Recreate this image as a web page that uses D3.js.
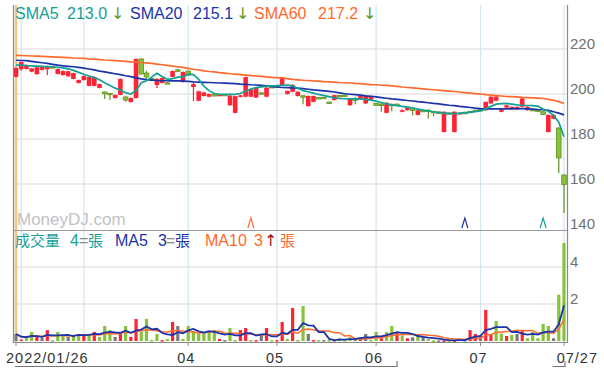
<!DOCTYPE html>
<html><head><meta charset="utf-8">
<script src="https://cdn.jsdelivr.net/npm/d3@7"></script>
<style>body{margin:0;background:#fff;}svg{display:block;font-family:"Liberation Sans","Noto Sans CJK TC",sans-serif;}</style>
</head><body><svg id="c" width="604" height="369"></svg>
<script>
// ---------- DATA ----------
const tickIdx    = [0, 33, 50, 69, 89, 105];
const tickLabels = ["2022/01/26", "04", "05", "06", "07", "07/27"];
const monthGridIdx = [1, 13, 33, 50, 69, 89, 105];
const priceTicks = [140, 160, 180, 200, 220];
const volTicks   = [2, 4];

const open  = [207.6,211.0,211.1,209.9,208.8,210.7,211.0,212.1,208.9,208.4,207.9,206.7,204.9,206.2,203.6,203.6,202.7,200.9,200.3,198.2,
               199.6,198.7,196.4,198.2,215.6,209.3,206.9,204.0,204.9,205.0,207.6,210.7,205.3,210.2,203.1,197.0,199.1,198.8,199.9,199.3,
               199.8,195.0,191.6,198.7,198.8,198.8,198.4,200.5,198.8,203.3,203.6,203.9,200.0,201.0,199.1,199.2,194.6,196.5,198.4,198.5,
               196.4,197.3,199.3,199.5,195.0,197.8,197.6,195.8,197.3,195.8,195.5,191.6,195.4,195.5,192.1,192.8,193.3,190.7,192.7,192.8,
               192.3,192.0,183.1,191.6,183.1,191.0,191.8,192.3,192.8,193.1,192.8,195.8,197.0,192.1,194.0,193.1,193.1,194.3,192.8,193.1,
               192.9,192.1,183.1,189.0,184.9,164.0];
const high  = [211.8,214.4,213.1,211.5,212.0,212.3,212.6,212.3,211.3,210.4,210.3,209.5,206.4,208.2,207.8,207.8,204.6,201.0,200.4,199.8,
               206.9,198.9,198.4,215.8,215.8,210.3,207.1,207.0,207.3,205.2,210.5,211.2,210.0,210.5,205.0,201.4,200.9,200.2,200.1,199.8,
               200.0,199.5,199.2,199.6,207.7,202.3,202.9,200.7,203.0,203.5,203.8,207.6,201.5,204.5,201.2,199.4,199.3,199.3,198.6,198.7,
               196.6,199.7,199.5,199.7,198.2,198.8,199.3,199.3,199.3,196.0,196.5,196.3,195.8,195.7,193.2,194.2,193.5,193.0,192.9,193.1,
               192.5,192.2,192.3,191.8,192.3,191.7,192.1,192.5,193.0,193.3,196.7,199.0,199.5,193.3,195.2,194.5,194.5,198.2,194.5,193.3,
               193.1,192.3,190.9,190.9,185.1,164.2];
const low   = [207.4,210.3,210.9,209.7,208.6,210.5,208.3,211.6,208.7,208.2,207.7,206.5,204.7,206.0,203.4,203.4,202.5,197.8,197.3,198.0,
               199.4,196.6,196.2,198.0,208.7,206.2,206.4,202.7,204.7,204.7,207.4,209.9,205.1,208.2,196.9,196.8,198.9,198.6,199.0,199.1,
               199.5,194.8,191.4,198.5,198.6,198.6,198.2,200.3,198.6,203.0,203.3,203.7,199.8,200.8,198.9,195.5,194.4,196.3,198.0,198.3,
               196.0,197.1,199.0,199.2,194.8,195.5,197.4,195.6,197.1,194.7,192.1,191.4,192.3,195.2,191.9,192.6,190.5,190.5,192.3,189.1,
               190.1,191.7,182.9,191.3,182.9,190.8,191.6,191.9,192.1,192.6,192.6,195.6,196.8,191.9,193.8,192.9,192.9,194.1,192.6,192.7,
               192.3,190.7,182.9,188.8,164.9,147.1];
const close = [211.6,214.2,212.9,211.4,211.9,212.1,212.4,211.8,211.1,210.2,210.1,209.3,206.2,208.0,207.6,207.6,204.4,200.1,199.7,199.6,
               206.7,197.3,198.2,215.6,208.9,207.6,206.6,206.7,207.1,204.9,210.2,210.2,209.8,208.4,204.4,201.2,200.7,200.0,199.1,199.6,
               199.7,199.3,199.0,199.4,207.5,202.1,202.7,200.5,202.8,203.1,203.4,207.4,201.4,204.0,201.0,198.9,199.1,199.1,198.2,198.5,
               196.2,199.5,199.1,199.3,198.0,197.5,199.1,199.1,199.1,194.9,195.2,196.1,195.1,195.4,192.8,194.0,193.0,192.8,192.5,192.5,
               192.0,191.9,192.1,191.5,192.1,191.5,191.8,192.0,192.3,192.8,196.5,198.8,198.8,193.1,195.0,194.3,194.3,198.0,194.3,192.9,
               192.5,190.9,190.7,190.7,171.6,159.8];

const sma5  = [212.9,212.8,212.6,212.5,212.4,212.3,212.2,212.1,211.9,211.6,211.2,210.5,209.6,208.8,208.0,207.3,206.3,205.0,203.8,202.6,
               201.8,200.6,200.0,201.5,205.0,205.9,207.5,209.2,207.8,206.5,206.8,207.5,207.6,208.8,208.6,206.5,203.5,201.5,200.2,199.9,
               199.8,199.8,199.8,200.2,201.3,202.2,202.8,203.2,203.4,203.6,203.7,203.9,204.0,203.6,202.6,201.5,201.0,200.4,199.8,199.3,
               198.8,198.3,198.0,197.9,197.8,197.8,197.8,197.6,197.3,196.8,196.2,195.6,195.2,194.8,194.5,194.2,193.8,193.3,192.9,192.5,
               192.0,191.8,191.5,191.3,191.3,191.5,191.7,191.8,192.2,192.5,193.4,194.5,195.5,195.7,195.8,195.5,195.2,195.0,194.9,194.8,
               194.6,193.3,192.3,190.5,187.5,181.0];
const sma20 = [215.0,214.9,214.8,214.5,214.2,213.9,213.6,213.2,212.8,212.5,212.3,212.1,211.8,211.5,211.1,210.7,210.2,209.8,209.4,209.0,
               208.6,208.1,207.7,207.2,206.7,206.4,206.2,206.0,205.9,205.9,205.8,205.8,205.7,205.6,205.4,205.3,205.2,205.1,205.0,204.9,
               204.8,204.7,204.6,204.4,204.3,204.1,204.0,203.8,203.6,203.3,203.1,202.9,202.8,202.7,202.6,202.4,202.1,201.8,201.6,201.4,
               201.2,200.9,200.5,200.1,199.9,199.7,199.5,199.2,199.0,198.7,198.4,198.1,197.8,197.6,197.4,197.1,196.9,196.6,196.4,196.1,
               195.8,195.6,195.3,195.0,194.8,194.5,194.3,194.0,193.7,193.5,193.4,193.4,193.4,193.4,193.4,193.5,193.5,193.5,193.4,193.3,
               193.1,193.0,192.7,192.1,191.5,190.7];
const sma60 = [217.2,217.1,217.0,216.9,216.8,216.7,216.6,216.5,216.4,216.3,216.2,216.0,215.9,215.8,215.6,215.5,215.3,215.1,215.0,214.8,
               214.7,214.5,214.3,214.2,214.0,213.8,213.6,213.3,213.0,212.7,212.4,212.1,211.8,211.4,211.0,210.7,210.3,210.0,209.8,209.5,
               209.3,209.0,208.8,208.6,208.4,208.2,208.0,207.8,207.6,207.4,207.3,207.1,206.8,206.5,206.3,206.1,206.0,205.8,205.7,205.5,
               205.4,205.3,205.1,205.0,204.9,204.7,204.6,204.4,204.2,204.1,203.9,203.8,203.6,203.4,203.1,202.9,202.7,202.5,202.3,202.1,
               201.9,201.7,201.5,201.3,201.1,200.9,200.6,200.4,200.2,200.0,199.7,199.5,199.3,199.1,198.9,198.8,198.7,198.5,198.4,198.3,
               198.2,198.0,197.6,197.2,196.6,195.8];

const volume = [0.38,0.08,0.15,0.49,0.22,0.18,0.59,0.05,0.49,0.29,0.22,0.29,0.38,0.38,0.38,0.49,0.22,0.81,0.59,0.22,
                0.38,0.81,0.22,1.19,0.49,1.19,0.05,0.38,0.05,0.11,1.03,0.81,0.11,0.81,0.49,0.38,0.49,0.49,0.59,0.11,
                0.05,0.70,0.05,0.59,0.70,0.05,0.05,0.38,0.70,0.05,0.05,1.03,0.11,1.78,0.05,1.89,0.38,0.05,0.05,0.05,
                0.05,0.05,0.15,0.05,0.20,0.15,0.20,0.38,0.05,0.49,0.15,0.49,0.81,0.43,0.30,0.15,0.20,0.27,0.20,0.10,
                0.03,0.03,0.03,0.03,0.03,0.10,0.05,0.59,0.38,0.27,1.68,0.33,1.08,0.40,0.27,0.33,0.38,0.59,0.15,0.49,
                0.15,0.92,0.81,0.15,2.50,5.30];
// sign of the day's price change, as shown by the volume bar colours (u = up, d = down, f = flat)
const volDir = ["f","u","d","d","u","f","u","d","d","d","f","d","d","u","d","u","d","d","d","f",
                "u","d","u","u","d","d","d","d","u","d","u","f","d","d","d","d","d","d","d","u",
                "f","d","d","u","u","d","u","f","u","d","u","u","d","u","d","d","f","u","d","f",
                "d","u","d","d","d","f","u","f","d","d","u","d","d","u","d","u","f","d","f","d",
                "d","f","u","d","u","f","f","u","u","f","u","u","d","d","u","d","f","u","d","d",
                "d","d","d","f","d","d"];

const signalIdx    = [45, 86, 101];
const signalSeries = ["SMA60", "SMA20", "SMA5"];

const legendTop = [
  {name:"SMA5",  value:"213.0", arrow:"↓"},
  {name:"SMA20", value:"215.1", arrow:"↓"},
  {name:"SMA60", value:"217.2", arrow:"↓"}
];

// ---------- DRAWING ----------
const N = close.length;
const svg = d3.select("#c");
const L = 13, R = 567, TOP = 5, MAINB = 230, VOLB = 342;
const C = {red:"#fe2434", green:"#86c33b", greenDk:"#5f931f", gray:"#7a7a7a",
           teal:"#14a095", blue:"#1a33a8", orange:"#ff6a2c", arrowG:"#5f9b2a"};
const seriesColor = {SMA5:C.teal, SMA20:C.blue, SMA60:C.orange};

const x  = d3.scaleLinear().domain([0, N - 1]).range([16, 564]);
const yP = d3.scaleLinear().domain([140, 220]).range([229, 49]);
const yV = d3.scaleLinear().domain([0, 4]).range([341, 267]);

const defs = svg.append("defs");
defs.append("clipPath").attr("id","cm").append("rect").attr("x",L).attr("y",TOP).attr("width",R-L).attr("height",MAINB-TOP);
defs.append("clipPath").attr("id","cv").append("rect").attr("x",L).attr("y",MAINB).attr("width",R-L).attr("height",VOLB-MAINB);

// horizontal grid
svg.append("g").selectAll("line").data(priceTicks.filter(d=>d>140)).join("line")
  .attr("x1",L).attr("x2",R).attr("y1",d=>yP(d)).attr("y2",d=>yP(d))
  .attr("stroke","#e6e6e6").attr("stroke-width",1.5);
svg.append("g").selectAll("line").data(volTicks).join("line")
  .attr("x1",L).attr("x2",R).attr("y1",d=>yV(d)).attr("y2",d=>yV(d))
  .attr("stroke","#e6e6e6").attr("stroke-width",1.5);

// vertical month grid
svg.append("g").selectAll("line").data(monthGridIdx).join("line")
  .attr("x1",d=>x(d)).attr("x2",d=>x(d)).attr("y1",TOP).attr("y2",VOLB)
  .attr("stroke","#d3e6f0").attr("stroke-width",1.2);

// highlight (first day)
svg.append("line").attr("x1",x(0)).attr("x2",x(0)).attr("y1",TOP).attr("y2",VOLB)
  .attr("stroke","#f6c57e").attr("stroke-width",2.5);

// watermark
svg.append("text").attr("x",17).attr("y",225).attr("font-size",17).attr("fill","#c2c2c2").text("MoneyDJ.com");

// candles
const idx = d3.range(N);
const cColor = i => close[i] > open[i] ? C.red : C.green;
const cStroke = i => close[i] > open[i] ? C.red : C.greenDk;
const gm = svg.append("g").attr("clip-path","url(#cm)");
gm.append("g").selectAll("line").data(idx).join("line")
  .attr("x1",i=>x(i)).attr("x2",i=>x(i)).attr("y1",i=>yP(high[i])).attr("y2",i=>yP(low[i]))
  .attr("stroke",cStroke).attr("stroke-width",1.2);
gm.append("g").selectAll("rect").data(idx).join("rect")
  .attr("x",i=>x(i)-2.3).attr("width",4.6)
  .attr("y",i=>yP(Math.max(open[i],close[i])))
  .attr("height",i=>Math.max(1.4, Math.abs(yP(open[i])-yP(close[i]))))
  .attr("fill",cColor).attr("stroke",cStroke).attr("stroke-width",i=>close[i]>open[i]?0:0.8);

// price MAs
const lineP = d3.line().x((d,i)=>x(i)).y(d=>yP(d));
[[sma60,C.orange],[sma20,C.blue],[sma5,C.teal]].forEach(([arr,col])=>{
  gm.append("path").attr("d",lineP(arr)).attr("fill","none").attr("stroke",col).attr("stroke-width",1.7);
});

// signal chevrons
svg.append("g").selectAll("path").data(signalIdx).join("path")
  .attr("d",(d)=>{const cx=x(d); return `M${cx-3},${yP(140)-1}L${cx},${yP(140)-11}L${cx+3},${yP(140)-1}`;})
  .attr("fill","none").attr("stroke",(d,k)=>seriesColor[signalSeries[k]]).attr("stroke-width",1.2);

// volume bars
const vColor = {u:C.red, d:C.green, f:C.gray};
const gv = svg.append("g").attr("clip-path","url(#cv)");
gv.append("g").selectAll("rect").data(idx).join("rect")
  .attr("x",i=>x(i)-1.6).attr("width",3.2)
  .attr("y",i=>yV(volume[i])).attr("height",i=>Math.max(1.5, yV(0)-yV(volume[i])))
  .attr("fill",i=>vColor[volDir[i]]);

// volume MAs
const maOf = (arr,n)=>arr.map((d,i)=>d3.mean(arr.slice(Math.max(0,i-n+1),i+1)));
const vma5 = maOf(volume,5), vma10 = maOf(volume,10);
const lineV = d3.line().x((d,i)=>x(i)).y(d=>yV(d));
gv.append("path").attr("d",lineV(vma10)).attr("fill","none").attr("stroke",C.orange).attr("stroke-width",1.5);
gv.append("path").attr("d",lineV(vma5)).attr("fill","none").attr("stroke",C.blue).attr("stroke-width",1.8);

// frame
svg.append("line").attr("x1",L+0.5).attr("x2",L+0.5).attr("y1",TOP).attr("y2",VOLB+1).attr("stroke","#8a8a8a").attr("stroke-width",1.2);
svg.append("line").attr("x1",R+0.5).attr("x2",R+0.5).attr("y1",TOP).attr("y2",VOLB+1).attr("stroke","#8a8a8a").attr("stroke-width",1.2);
svg.append("line").attr("x1",L).attr("x2",R).attr("y1",MAINB+0.5).attr("y2",MAINB+0.5).attr("stroke","#9a9a9a").attr("stroke-width",1);

// bottom axis
const ax = svg.append("g");
ax.append("line").attr("x1",L).attr("x2",R+1).attr("y1",VOLB+0.5).attr("y2",VOLB+0.5).attr("stroke","#8a8a8a").attr("stroke-width",1.2);
ax.selectAll("line.t").data(tickIdx).join("line").attr("class","t")
  .attr("x1",d=>x(d)).attr("x2",d=>x(d)).attr("y1",VOLB).attr("y2",VOLB+4).attr("stroke","#8a8a8a");
ax.selectAll("text").data(tickIdx).join("text")
  .attr("x",(d,k)=> k===0 ? 6 : k===tickIdx.length-1 ? 598 : x(d)-2)
  .attr("text-anchor",(d,k)=> k===0 ? "start" : k===tickIdx.length-1 ? "end" : "middle")
  .attr("y",363).attr("font-size",14.5).attr("fill","#333").attr("letter-spacing",1)
  .text((d,k)=>tickLabels[k]);
// navigator strip
svg.append("path").attr("d",`M${x(0)-1},366.5H${x(73)}V361`).attr("fill","none").attr("stroke","#777").attr("stroke-width",1.2);
svg.append("path").attr("d",`M${x(103)-1},366.5H${x(105)+1}V361`).attr("fill","none").attr("stroke","#777").attr("stroke-width",1.2);

// right axis labels
svg.append("g").selectAll("text").data(priceTicks).join("text")
  .attr("x",570).attr("y",d=>yP(d)).attr("font-size",15).attr("fill","#707070").text(d=>d);
svg.append("g").selectAll("text").data(volTicks).join("text")
  .attr("x",570).attr("y",d=>yV(d)).attr("font-size",15).attr("fill","#707070").text(d=>d);

// top legend
const lgX = [[15,67,111],[130,193,236],[254,318,363]];
const lg = svg.append("g").attr("font-size",16);
legendTop.forEach((it,k)=>{
  const col = seriesColor[it.name];
  lg.append("text").attr("x",lgX[k][0]).attr("y",19).attr("fill",col).text(it.name);
  lg.append("text").attr("x",lgX[k][1]).attr("y",19).attr("fill",col).text(it.value);
  lg.append("text").attr("x",lgX[k][2]).attr("y",19).attr("fill",C.arrowG).attr("font-family","DejaVu Sans").attr("font-size",16).text(it.arrow);
});

// volume legend
const vl = [
  ["成交量",15,C.teal],["4",70,C.teal],["=",79,"#8a8a8a"],["張",88,C.teal],
  ["MA5",115,C.blue],["3",158,C.blue],["=",166,"#8a8a8a"],["張",175,C.blue],
  ["MA10",205,C.orange],["3",254,C.orange],["↑",264,"#a01414"],["張",280,C.orange]
];
svg.append("g").selectAll("text").data(vl).join("text")
  .attr("x",d=>d[1]).attr("y",246).attr("fill",d=>d[2])
  .attr("font-family",d=>d[0]==="↑"?"DejaVu Sans":null)
  .attr("font-size",d=>/[\u4e00-\u9fff]/.test(d[0])?15:16)
  .text(d=>d[0]);
</script></body></html>
